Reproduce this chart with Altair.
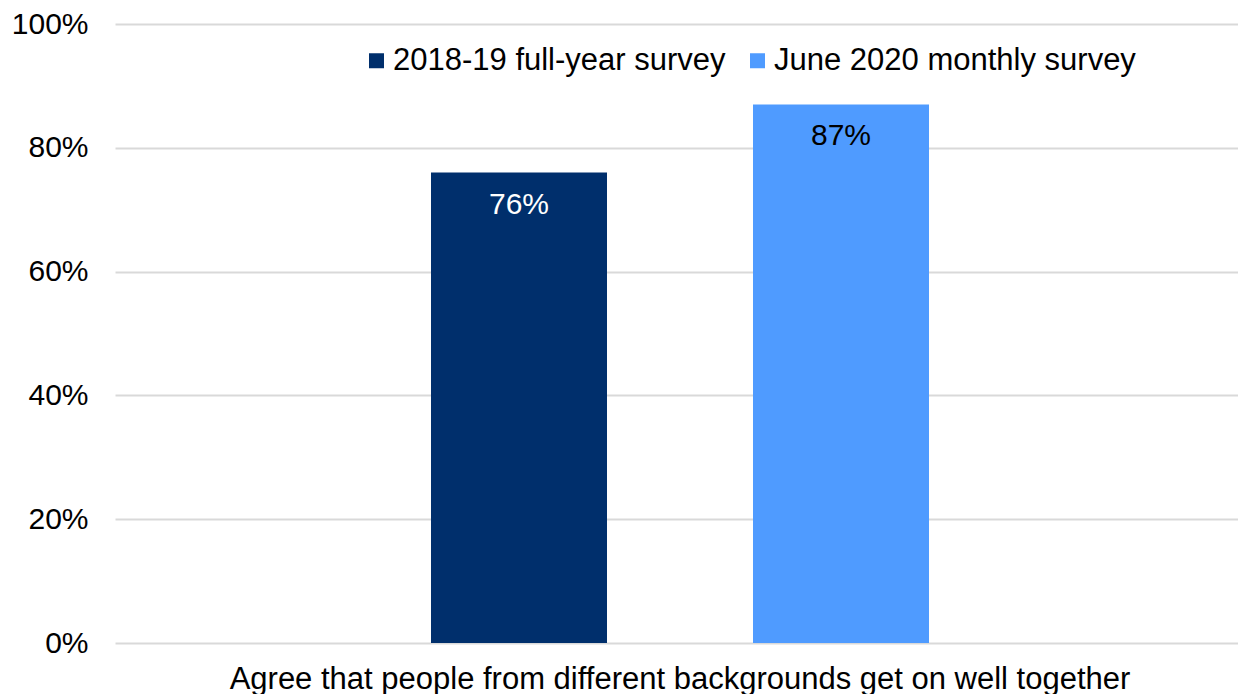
import altair as alt
import pandas as pd

category = ["Agree that people from different backgrounds get on well together"]
series = ["2018-19 full-year survey", "June 2020 monthly survey"]
values = [76, 87]
colors = ["#002f6c", "#4f9bff"]
y_ticks = [0, 20, 40, 60, 80, 100]

df = pd.DataFrame({
    "category": category * len(series),
    "series": series,
    "value": values,
})

FONT = "Liberation Sans"
FS = 30
FS_BIG = 31

base = alt.Chart(df).encode(
    x=alt.X("category:N", title=None,
            scale=alt.Scale(paddingInner=0, paddingOuter=0.6275, align=0.5056),
            axis=alt.Axis(labelAngle=0, domain=False, ticks=False, tickSize=0,
                          labelPadding=21, labelFontSize=FS_BIG, labelFont=FONT,
                          labelColor="#000000", labelLimit=2000)),
    xOffset=alt.XOffset("series:N", sort=series,
                        scale=alt.Scale(paddingInner=0.4534, paddingOuter=0)),
    y=alt.Y("value:Q", title=None,
            scale=alt.Scale(domain=[0, 100], nice=False),
            axis=alt.Axis(values=y_ticks, labelExpr="datum.value + '%'",
                          domain=False, ticks=False, tickSize=0, labelPadding=27,
                          labelFontSize=FS, labelFont=FONT, labelColor="#000000",
                          grid=True, gridColor="#d9d9d9", gridWidth=2)),
)

bars = base.mark_bar().encode(
    color=alt.Color("series:N", sort=series,
                    scale=alt.Scale(domain=series, range=colors),
                    legend=alt.Legend(title=None, orient="none", direction="horizontal",
                                      legendX=246, legendY=21,
                                      symbolType="square", symbolSize=225,
                                      symbolStrokeWidth=0, labelOffset=1,
                                      columnPadding=16, labelFontSize=FS_BIG,
                                      labelFont=FONT, labelColor="#000000",
                                      labelLimit=600)),
)

labels = base.mark_text(baseline="alphabetic", dy=41, font=FONT, fontSize=FS).encode(
    color=alt.condition(alt.datum.series == series[0],
                        alt.value("#ffffff"), alt.value("#000000")),
).transform_calculate(label="datum.value + '%'").encode(text="label:N")

chart = alt.layer(bars, labels).properties(
    width=1123, height=619,
    autosize=alt.AutoSizeParams(type="none"),
    padding={"left": 107, "top": 16, "right": 0, "bottom": 52},
).configure_view(stroke=None)

chart.save("out.html", embed_options={"renderer": "svg", "actions": False})
